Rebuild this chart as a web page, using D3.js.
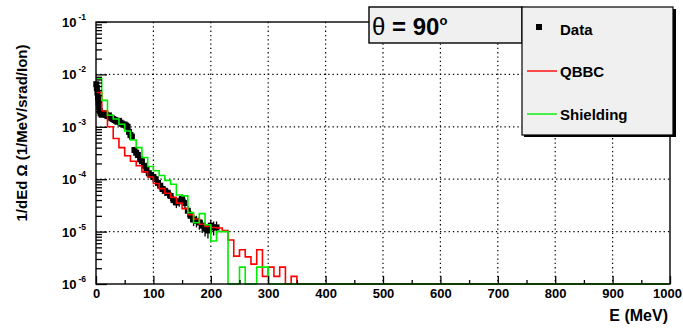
<!DOCTYPE html>
<html>
<head>
<meta charset="utf-8">
<title>theta = 90 spectrum</title>
<script src="https://d3js.org/d3.v7.min.js"></script>
<style>
    body { margin: 0; background: #fff; }
    svg { display: block; font-family: "Liberation Sans", Arial, Helvetica, sans-serif; font-weight: bold; }
    .grid line { stroke: #000; stroke-width: 1.2; stroke-dasharray: 1.3 3; }
    .axis path { display: none; }
    .axis line { stroke: #000; stroke-width: 1.3; }
    .hist { fill: none; stroke-width: 1.6; }
</style>
</head>
<body>
<svg id="chart" width="683" height="328"></svg>
<script>
// simulated spectra, 10 MeV bins starting at 0 (1/MeV/srad/Ion)
const binWidth = 10;
const qbbc = [4.5e-3, 2.0e-3, 1.0e-3, 6.0e-4, 4.0e-4, 2.8e-4, 2.2e-4, 1.8e-4, 1.38e-4, 1.1e-4,
              8.3e-5, 6.6e-5, 5.4e-5, 4.5e-5, 3.5e-5, 2.75e-5, 2.1e-5, 1.74e-5, 1.38e-5, 1.26e-5,
              1.2e-5, 1.17e-5, 1.05e-5, 6.9e-6, 3.4e-6, 4.5e-6, 3.3e-6, 2.4e-6, 4.5e-6, 1.4e-6,
              2.1e-6, 1.4e-6, 2.1e-6, 0, 1.4e-6];
const shielding = [8.3e-3, 3.2e-3, 1.66e-3, 1.41e-3, 1.12e-3, 8.3e-4, 5.6e-4, 4.0e-4, 2.6e-4, 1.75e-4,
                   1.45e-4, 1.18e-4, 9.5e-5, 8.0e-5, 5.0e-5, 4.8e-5, 2.3e-5, 1.48e-5, 2.2e-5, 1.35e-5,
                   6.6e-6, 1.0e-5, 1.0e-5, 0, 0, 2.1e-6, 0, 0, 2.1e-6, 2.1e-6];

// measured points
const dataE = [0.5, 1.5, 2.5, 3.5, 4.5, 5.5, 6.5, 8, 10, 12.5, 15, 17.5, 20, 22.5, 25, 27.5, 30, 32.5,
               35, 37.5, 40, 42.5, 45, 47.5, 50, 52.5, 55, 57.5, 60, 62.5, 67, 70, 73, 77, 80, 84,
               88, 92, 96, 100, 104, 108, 112, 116, 120, 125, 130, 135, 140, 145, 150, 155, 160,
               165, 170, 175, 180, 185, 190, 195, 200, 205, 210];
const dataY = [6.5e-3, 5.5e-3, 4.5e-3, 3.6e-3, 2.9e-3, 2.4e-3, 2.0e-3, 1.8e-3, 1.7e-3, 1.75e-3, 1.8e-3,
               1.7e-3, 1.6e-3, 1.65e-3, 1.5e-3, 1.45e-3, 1.4e-3, 1.35e-3, 1.3e-3, 1.25e-3, 1.3e-3,
               1.2e-3, 1.15e-3, 1.1e-3, 1.1e-3, 1.05e-3, 1.0e-3, 8.0e-4, 7.0e-4, 6.5e-4, 3.6e-4,
               3.2e-4, 2.9e-4, 2.4e-4, 2.2e-4, 1.8e-4, 1.5e-4, 1.3e-4, 1.2e-4, 1.1e-4, 1.0e-4,
               8.5e-5, 7.5e-5, 6.5e-5, 6.0e-5, 5.5e-5, 4.8e-5, 4.0e-5, 3.6e-5, 3.8e-5, 4.2e-5,
               3.5e-5, 2.5e-5, 2.0e-5, 1.7e-5, 1.6e-5, 1.5e-5, 1.3e-5, 1.15e-5, 1.05e-5, 1.3e-5,
               1.2e-5, 1.2e-5];
const dataRelErr = [0.08, 0.08, 0.08, 0.08, 0.08, 0.08, 0.08, 0.08, 0.1, 0.1, 0.1, 0.1, 0.1, 0.1, 0.1,
                    0.1, 0.1, 0.1, 0.1, 0.1, 0.1, 0.1, 0.1, 0.1, 0.1, 0.1, 0.1, 0.12, 0.12, 0.12, 0.15,
                    0.15, 0.15, 0.15, 0.15, 0.15, 0.15, 0.15, 0.15, 0.18, 0.18, 0.18, 0.18, 0.18, 0.2,
                    0.2, 0.2, 0.2, 0.22, 0.22, 0.22, 0.22, 0.25, 0.25, 0.25, 0.25, 0.28, 0.28, 0.3,
                    0.3, 0.3, 0.3, 0.3];
const dataHalfW = [0.5, 0.5, 0.5, 0.5, 0.5, 0.5, 0.5, 1, 1, 1.25, 1.25, 1.25, 1.25, 1.25, 1.25, 1.25,
                   1.25, 1.25, 1.25, 1.25, 1.25, 1.25, 1.25, 1.25, 1.25, 1.25, 1.25, 1.25, 1.25, 1.25,
                   2, 2, 2, 2, 2, 2, 2, 2, 2, 2, 2, 2, 2, 2, 2, 2.5, 2.5, 2.5, 2.5, 2.5, 2.5, 2.5, 2.5,
                   2.5, 2.5, 2.5, 2.5, 2.5, 2.5, 2.5, 2.5, 2.5, 2.5];

const xMajor = [0, 100, 200, 300, 400, 500, 600, 700, 800, 900, 1000];
const xMinor = [50, 150, 250, 350, 450, 550, 650, 750, 850, 950];
const yExp = [-6, -5, -4, -3, -2, -1];
const legendItems = ['Data', 'QBBC', 'Shielding'];
const histColors = { QBBC: '#ff0000', Shielding: '#00ee00' };

const svg = d3.select('#chart');
const plot = { left: 96, right: 670, top: 22, bottom: 284 };

const x = d3.scaleLinear().domain([0, 1000]).range([plot.left, plot.right]);
const y = d3.scaleLog().domain([1e-6, 1e-1]).range([plot.bottom, plot.top]);
const yMin = 1e-6;
const yc = v => y(Math.max(v, yMin));

// grid
const grid = svg.append('g').attr('class', 'grid');
grid.selectAll('.gx').data(xMajor.slice(1, -1)).join('line')
    .attr('x1', d => x(d)).attr('x2', d => x(d))
    .attr('y1', plot.top).attr('y2', plot.bottom);
grid.selectAll('.gy').data(yExp.slice(1, -1)).join('line')
    .attr('x1', plot.left).attr('x2', plot.right)
    .attr('y1', d => y(Math.pow(10, d))).attr('y2', d => y(Math.pow(10, d)));

// data points with error bars
const pts = svg.append('g');
dataE.forEach((e, i) => {
    const v = dataY[i], err = v * dataRelErr[i];
    pts.append('line')
        .attr('x1', x(e - dataHalfW[i])).attr('x2', x(e + dataHalfW[i]))
        .attr('y1', y(v)).attr('y2', y(v))
        .attr('stroke', '#000').attr('stroke-width', 1.3);
    pts.append('line')
        .attr('x1', x(e)).attr('x2', x(e))
        .attr('y1', y(v - err)).attr('y2', y(v + err))
        .attr('stroke', '#000').attr('stroke-width', 1.3);
    pts.append('rect')
        .attr('x', x(e) - 3).attr('y', y(v) - 3)
        .attr('width', 6).attr('height', 6)
        .attr('fill', '#000');
});

// step histograms, empty bins drawn on the axis floor up to 1000 MeV
function stepPoints(vals) {
    const p = [];
    vals.forEach((v, i) => {
        p.push([i * binWidth, v]);
        p.push([(i + 1) * binWidth, v]);
    });
    p.push([vals.length * binWidth, 0]);
    p.push([1000, 0]);
    return p;
}
const stepLine = d3.line().x(d => x(d[0])).y(d => yc(d[1]));
svg.append('path').attr('class', 'hist')
    .attr('stroke', histColors.QBBC).attr('d', stepLine(stepPoints(qbbc)));
svg.append('path').attr('class', 'hist')
    .attr('stroke', histColors.Shielding).attr('d', stepLine(stepPoints(shielding)));

// axes (ticks inside the frame)
svg.append('g').attr('class', 'axis')
    .attr('transform', `translate(0,${plot.bottom})`)
    .call(d3.axisBottom(x).tickValues(xMajor).tickSize(-8).tickPadding(5).tickFormat(d3.format('d')))
    .call(g => g.selectAll('text').attr('font-size', 13).attr('font-weight', 'bold')
        .attr('font-family', '"Liberation Sans", Arial, sans-serif').attr('fill', '#000'))
    .call(g => g.selectAll('.tick:last-of-type text').attr('dx', -3));
svg.append('g').attr('class', 'axis')
    .attr('transform', `translate(0,${plot.bottom})`)
    .call(d3.axisBottom(x).tickValues(xMinor).tickSize(-4).tickFormat(''));

svg.append('g').attr('class', 'axis')
    .attr('transform', `translate(${plot.left},0)`)
    .call(d3.axisLeft(y).tickValues(yExp.map(d => Math.pow(10, d))).tickSize(-11).tickFormat(''));
svg.append('g').attr('class', 'axis')
    .attr('transform', `translate(${plot.left},0)`)
    .call(d3.axisLeft(y).tickValues(y.ticks().filter(t => Math.abs(Math.log10(t) % 1) > 1e-6)).tickSize(-6).tickFormat(''));

// y tick labels 10^n
const ylab = svg.append('g');
yExp.forEach(e => {
    const t = ylab.append('text')
        .attr('x', 62).attr('y', y(Math.pow(10, e)) + 5)
        .attr('font-size', 13).attr('fill', '#000');
    t.append('tspan').text('10');
    t.append('tspan').attr('dx', 2).attr('dy', -7).attr('font-size', 8.5).text(e);
});

// frame
svg.append('rect')
    .attr('x', plot.left).attr('y', plot.top)
    .attr('width', plot.right - plot.left).attr('height', plot.bottom - plot.top)
    .attr('fill', 'none').attr('stroke', '#000').attr('stroke-width', 1.4);

// axis titles
svg.append('text')
    .attr('x', 668).attr('y', 321).attr('text-anchor', 'end')
    .attr('font-size', 16).text('E (MeV)');
svg.append('text')
    .attr('transform', 'translate(27,133) rotate(-90)')
    .attr('text-anchor', 'middle').attr('font-size', 15)
    .text('1/dEd\u00a0\u03a9 (1/MeV/srad/Ion)');

// angle label box
svg.append('rect')
    .attr('x', 369).attr('y', 7).attr('width', 153).attr('height', 36)
    .attr('fill', '#f0f0f0').attr('stroke', '#000').attr('stroke-width', 1.4);
const th = svg.append('text').attr('x', 372).attr('y', 35).attr('font-size', 24);
th.append('tspan').attr('font-weight', 'normal').text('\u03b8');
th.append('tspan').text(' = 90');
th.append('tspan').attr('dy', -10).attr('font-size', 13).text('o');

// legend
svg.append('rect')
    .attr('x', 524).attr('y', 9).attr('width', 152).attr('height', 128)
    .attr('fill', '#000');
svg.append('rect')
    .attr('x', 522).attr('y', 7).attr('width', 151).attr('height', 128)
    .attr('fill', '#f0f0f0').attr('stroke', '#000').attr('stroke-width', 1.2);
const legY = [30, 72, 115];
legendItems.forEach((name, i) => {
    if (name === 'Data') {
        svg.append('rect').attr('x', 536).attr('y', legY[i] - 6)
            .attr('width', 6).attr('height', 6).attr('fill', '#000');
    } else {
        svg.append('line').attr('x1', 527).attr('x2', 557)
            .attr('y1', legY[i] - 1).attr('y2', legY[i] - 1)
            .attr('stroke', histColors[name]).attr('stroke-width', 1.4);
    }
    svg.append('text').attr('x', 560).attr('y', legY[i] + 5)
        .attr('font-size', 15).text(name);
});
</script>
</body>
</html>
